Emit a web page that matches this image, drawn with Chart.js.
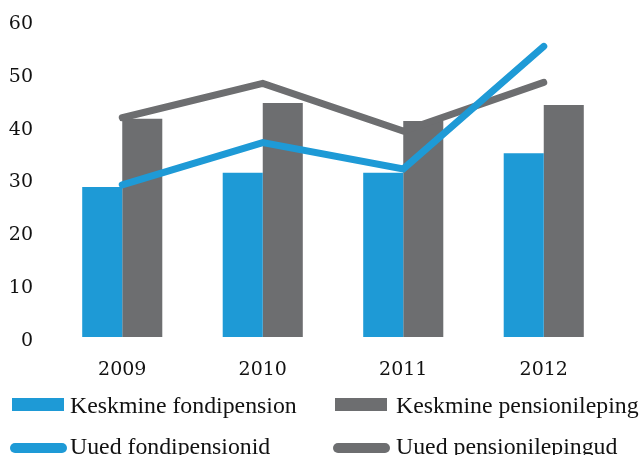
<!DOCTYPE html>
<html>
<head>
<meta charset="utf-8">
<script src="https://cdn.jsdelivr.net/npm/chart.js@4"></script>
<style>
    body { margin: 0; background: #fff; }
    #wrap { width: 640px; height: 455px; position: relative; }
</style>
</head>
<body>
<div id="wrap"><canvas id="pensionChart"></canvas></div>
<script>
const years = ['2009', '2010', '2011', '2012'];
const avgFundPension = [28.4, 31.1, 31.1, 34.8];
const avgPensionContract = [41.3, 44.3, 40.9, 43.9];
const newFundPensions = [28.8, 36.8, 31.8, 55.0];
const newPensionContracts = [41.5, 48.0, 39.0, 48.2];
const yTicks = [0, 10, 20, 30, 40, 50, 60];

const BLUE = '#1e9ad6';
const GRAY = '#6d6e70';

// Legend drawn by hand: two columns, bars on the first row, lines on the second
const legendPlugin = {
    id: 'gridLegend',
    afterDraw(chart) {
        const ctx = chart.ctx;
        const sets = chart.data.datasets;
        const cols = [{ mark: 12, text: 70 }, { mark: 335, text: 396 }];
        ctx.save();
        ctx.font = '23.8px "Liberation Serif", serif';
        ctx.textBaseline = 'alphabetic';
        sets.forEach((ds, i) => {
            const col = cols[i % 2];
            if (ds.type === 'bar') {
                ctx.fillStyle = ds.backgroundColor;
                ctx.fillRect(col.mark, 398, 52, 13);
                ctx.fillStyle = '#111';
                ctx.fillText(ds.label, col.text, 413);
            } else {
                ctx.strokeStyle = ds.borderColor;
                ctx.lineWidth = 10;
                ctx.lineCap = 'round';
                ctx.beginPath();
                ctx.moveTo(col.mark + 3, 448);
                ctx.lineTo(col.mark + 50, 448);
                ctx.stroke();
                ctx.fillStyle = '#111';
                ctx.fillText(ds.label, col.text, 454);
            }
        });
        ctx.restore();
    }
};

const ctx = document.getElementById('pensionChart').getContext('2d');
new Chart(ctx, {
    data: {
        labels: years,
        datasets: [
            {
                type: 'bar',
                label: 'Keskmine fondipension',
                data: avgFundPension,
                backgroundColor: BLUE,
                order: 3
            },
            {
                type: 'bar',
                label: 'Keskmine pensionileping',
                data: avgPensionContract,
                backgroundColor: GRAY,
                order: 3
            },
            {
                type: 'line',
                label: 'Uued fondipensionid',
                data: newFundPensions,
                borderColor: BLUE,
                borderWidth: 7,
                borderCapStyle: 'round',
                borderJoinStyle: 'miter',
                pointRadius: 0,
                tension: 0,
                order: 1
            },
            {
                type: 'line',
                label: 'Uued pensionilepingud',
                data: newPensionContracts,
                borderColor: GRAY,
                borderWidth: 7,
                borderCapStyle: 'round',
                borderJoinStyle: 'miter',
                pointRadius: 0,
                tension: 0,
                order: 2
            }
        ]
    },
    options: {
        responsive: true,
        maintainAspectRatio: false,
        animation: false,
        layout: {
            padding: { top: 20, right: 26, bottom: 65, left: 0 }
        },
        datasets: {
            bar: {
                categoryPercentage: 0.57,
                barPercentage: 1.0
            }
        },
        plugins: {
            legend: { display: false },
            tooltip: { enabled: false }
        },
        scales: {
            x: {
                grid: { display: false, drawTicks: false },
                border: { display: false },
                ticks: {
                    color: '#111',
                    padding: 22,
                    font: { family: '"DejaVu Serif", serif', size: 19 }
                },
                afterFit(scale) { scale.height = 53; }
            },
            y: {
                min: 0,
                max: 60,
                grid: { display: false, drawTicks: false },
                border: { display: false },
                afterBuildTicks(scale) {
                    scale.ticks = yTicks.map(v => ({ value: v }));
                },
                ticks: {
                    color: '#111',
                    padding: 19,
                    labelOffset: 4,
                    // tiny line height so the top label does not push the plot down
                    font: { family: '"DejaVu Serif", serif', size: 19, lineHeight: 0.1 }
                },
                afterFit(scale) { scale.width = 52; }
            }
        }
    },
    plugins: [legendPlugin]
});
</script>
</body>
</html>
